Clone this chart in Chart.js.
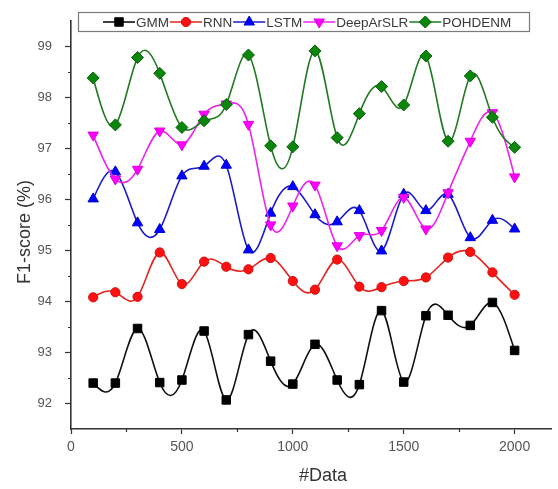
<!DOCTYPE html>
<html>
<head>
<meta charset="utf-8">
<title>F1-score vs data size</title>
<script src="https://cdn.jsdelivr.net/npm/chart.js@4.4.0/dist/chart.umd.min.js"></script>
<style>
  html, body { margin: 0; padding: 0; background: #fff; }
  #wrap { width: 558px; height: 489px; }
</style>
</head>
<body>
<div id="wrap"><canvas id="f1-chart"></canvas></div>
<script>
// number of data samples on the x axis
const dataSizes = [100, 200, 300, 400, 500, 600, 700, 800, 900, 1000,
                   1100, 1200, 1300, 1400, 1500, 1600, 1700, 1800, 1900, 2000];

// F1-score (%) per method
const gmm      = [92.40, 92.40, 93.47, 92.41, 92.46, 93.42, 92.07, 93.35, 92.83, 92.38,
                  93.16, 92.46, 92.37, 93.82, 92.42, 93.72, 93.73, 93.53, 93.98, 93.04];
const rnn      = [94.08, 94.18, 94.09, 94.96, 94.34, 94.78, 94.68, 94.63, 94.85, 94.40,
                  94.23, 94.82, 94.29, 94.28, 94.40, 94.47, 94.86, 94.97, 94.57, 94.13];
const lstm     = [96.01, 96.54, 95.54, 95.41, 96.46, 96.65, 96.67, 95.01, 95.73, 96.25,
                  95.70, 95.56, 95.78, 94.99, 96.10, 95.78, 96.10, 95.25, 95.59, 95.42];
const deepAr   = [97.26, 96.40, 96.59, 97.34, 97.07, 97.67, 97.87, 97.47, 95.50, 95.87,
                  96.28, 95.09, 95.29, 95.39, 96.04, 95.42, 96.13, 97.14, 97.70, 96.44];
const pohdenm  = [98.38, 97.46, 98.78, 98.47, 97.41, 97.54, 97.86, 98.83, 97.05, 97.03,
                  98.91, 97.21, 97.68, 98.21, 97.85, 98.81, 97.14, 98.42, 97.61, 97.02];

const xTicks = [0, 500, 1000, 1500, 2000];
const xMinorTicks = [250, 750, 1250, 1750];
const yTicks = [92, 93, 94, 95, 96, 97, 98, 99];
const yMinorTicks = [92.5, 93.5, 94.5, 95.5, 96.5, 97.5, 98.5];

const FONT = '"Liberation Sans", Arial, sans-serif';

const series = [
  { label: 'GMM',       data: gmm,     line: '#111111', fill: '#000000', stroke: '#000000', style: 'rect',     radius: 6,   rotation: 0 },
  { label: 'RNN',       data: rnn,     line: '#e3241f', fill: '#ff1010', stroke: '#d01010', style: 'circle',   radius: 4.6, rotation: 0 },
  { label: 'LSTM',      data: lstm,    line: '#1a1acc', fill: '#0000ff', stroke: '#0000d0', style: 'triangle', radius: 6,   rotation: 0 },
  { label: 'DeepArSLR', data: deepAr,  line: '#ee22ee', fill: '#ff00ff', stroke: '#e000e0', style: 'triangle', radius: 6,   rotation: 180 },
  { label: 'POHDENM',   data: pohdenm, line: '#217a21', fill: '#0a860a', stroke: '#0a5c0a', style: 'rectRot',  radius: 6,   rotation: 0 }
];

// natural cubic spline slopes for points sorted by x
function splineSlopes(xs, ys) {
  const n = xs.length;
  const h = [], a = [], b = [], c = [], r = [];
  for (let i = 0; i < n - 1; i++) h[i] = xs[i + 1] - xs[i];
  // second derivatives M, natural ends (M0 = Mn-1 = 0)
  for (let i = 0; i < n; i++) {
    if (i === 0 || i === n - 1) { a[i] = 0; b[i] = 1; c[i] = 0; r[i] = 0; continue; }
    a[i] = h[i - 1];
    b[i] = 2 * (h[i - 1] + h[i]);
    c[i] = h[i];
    r[i] = 6 * ((ys[i + 1] - ys[i]) / h[i] - (ys[i] - ys[i - 1]) / h[i - 1]);
  }
  for (let i = 1; i < n; i++) {
    const w = a[i] / b[i - 1];
    b[i] -= w * c[i - 1];
    r[i] -= w * r[i - 1];
  }
  const M = new Array(n);
  M[n - 1] = r[n - 1] / b[n - 1];
  for (let i = n - 2; i >= 0; i--) M[i] = (r[i] - c[i] * M[i + 1]) / b[i];
  const m = [];
  for (let i = 0; i < n - 1; i++) {
    m[i] = (ys[i + 1] - ys[i]) / h[i] - h[i] * (2 * M[i] + M[i + 1]) / 6;
  }
  m[n - 1] = (ys[n - 1] - ys[n - 2]) / h[n - 2] + h[n - 2] * (M[n - 2] + 2 * M[n - 1]) / 6;
  return m;
}

// replace the default bezier handles with cubic-spline ones
const splineCurves = {
  id: 'splineCurves',
  beforeDatasetDraw(chart, args) {
    const meta = args.meta;
    const line = meta.dataset;
    line.updateControlPoints(chart.chartArea, 'x');
    const pts = meta.data;
    const xs = pts.map(p => p.x);
    const ys = pts.map(p => p.y);
    const m = splineSlopes(xs, ys);
    for (let i = 0; i < pts.length; i++) {
      if (i > 0) {
        const h = (xs[i] - xs[i - 1]) / 3;
        pts[i].cp1x = xs[i] - h;
        pts[i].cp1y = ys[i] - m[i] * h;
      }
      if (i < pts.length - 1) {
        const h = (xs[i + 1] - xs[i]) / 3;
        pts[i].cp2x = xs[i] + h;
        pts[i].cp2y = ys[i] + m[i] * h;
      }
    }
  }
};

// short outward tick marks between the labelled ones
const minorTicks = {
  id: 'minorTicks',
  afterDraw(chart) {
    const { ctx, scales: { x, y } } = chart;
    ctx.save();
    ctx.strokeStyle = '#333';
    ctx.lineWidth = 1.2;
    ctx.beginPath();
    xMinorTicks.forEach(v => {
      const px = Math.round(x.getPixelForValue(v)) + 0.5;
      ctx.moveTo(px, x.top);
      ctx.lineTo(px, x.top + 3);
    });
    yMinorTicks.forEach(v => {
      const py = Math.round(y.getPixelForValue(v)) + 0.5;
      ctx.moveTo(y.right, py);
      ctx.lineTo(y.right - 3, py);
    });
    ctx.stroke();
    ctx.restore();
  }
};

// axis titles
const axisTitles = {
  id: 'axisTitles',
  afterDraw(chart) {
    const { ctx } = chart;
    ctx.save();
    ctx.fillStyle = '#333';
    ctx.font = '18px ' + FONT;
    ctx.textAlign = 'center';
    ctx.textBaseline = 'middle';
    ctx.fillText('#Data', 323, 476);
    ctx.translate(25, 232);
    ctx.rotate(-Math.PI / 2);
    ctx.fillText('F1-score (%)', 0, 0);
    ctx.restore();
  }
};

// boxed legend with line + marker samples in one row
const boxLegend = {
  id: 'boxLegend',
  afterDraw(chart) {
    const { ctx } = chart;
    ctx.save();
    ctx.strokeStyle = '#7a7a7a';
    ctx.lineWidth = 1.2;
    ctx.strokeRect(78.5, 12.5, 451, 19);
    ctx.font = '13.5px ' + FONT;
    ctx.textBaseline = 'middle';
    ctx.textAlign = 'left';
    const cy = 22;
    let x = 103;
    series.forEach(s => {
      ctx.strokeStyle = s.line;
      ctx.lineWidth = 1.6;
      ctx.beginPath();
      ctx.moveTo(x, cy);
      ctx.lineTo(x + 32, cy);
      ctx.stroke();
      ctx.fillStyle = s.fill;
      ctx.strokeStyle = s.stroke;
      ctx.lineWidth = 1;
      Chart.helpers.drawPoint(ctx, {
        pointStyle: s.style, radius: s.radius, rotation: s.rotation, borderWidth: 1
      }, x + 16, cy);
      ctx.fillStyle = '#3a3a3a';
      ctx.fillText(s.label, x + 33, cy + 1);
      x += 33 + ctx.measureText(s.label).width + 1;
    });
    ctx.restore();
  }
};

const axisStyle = {
  grid: { drawOnChartArea: false, drawTicks: true, tickLength: 5, color: '#333', tickWidth: 1.2 },
  border: { display: true, color: '#333', width: 1.6 }
};

new Chart(document.getElementById('f1-chart'), {
  type: 'line',
  data: {
    datasets: series.map((s, i) => ({
      label: s.label,
      data: s.data.map((v, k) => ({ x: dataSizes[k], y: v })),
      borderColor: s.line,
      borderWidth: 1.6,
      backgroundColor: s.fill,
      pointBackgroundColor: s.fill,
      pointBorderColor: s.stroke,
      pointBorderWidth: 1,
      pointStyle: s.style,
      pointRadius: s.radius,
      pointRotation: s.rotation,
      tension: 0.4,
      order: series.length - i
    }))
  },
  options: {
    responsive: true,
    maintainAspectRatio: false,
    animation: false,
    events: [],
    layout: { padding: { top: 15, right: 1, bottom: 0, left: 0 } },
    plugins: { legend: { display: false }, tooltip: { enabled: false } },
    scales: {
      x: {
        type: 'linear',
        min: 0,
        max: 2164,
        afterBuildTicks: s => { s.ticks = xTicks.map(v => ({ value: v })); },
        afterFit: s => { s.height = 60; },
        ticks: { font: { family: FONT, size: 14 }, color: '#555', padding: 5, maxRotation: 0, callback: v => String(v) },
        ...axisStyle
      },
      y: {
        min: 91.5,
        max: 99.5,
        afterBuildTicks: s => { s.ticks = yTicks.map(v => ({ value: v })); },
        afterFit: s => { s.width = 71; },
        ticks: { font: { family: FONT, size: 13 }, color: '#555', padding: 13, callback: v => String(v) },
        ...axisStyle,
        grid: { ...axisStyle.grid, tickLength: 6 }
      }
    }
  },
  plugins: [splineCurves, minorTicks, axisTitles, boxLegend]
});
</script>
</body>
</html>
